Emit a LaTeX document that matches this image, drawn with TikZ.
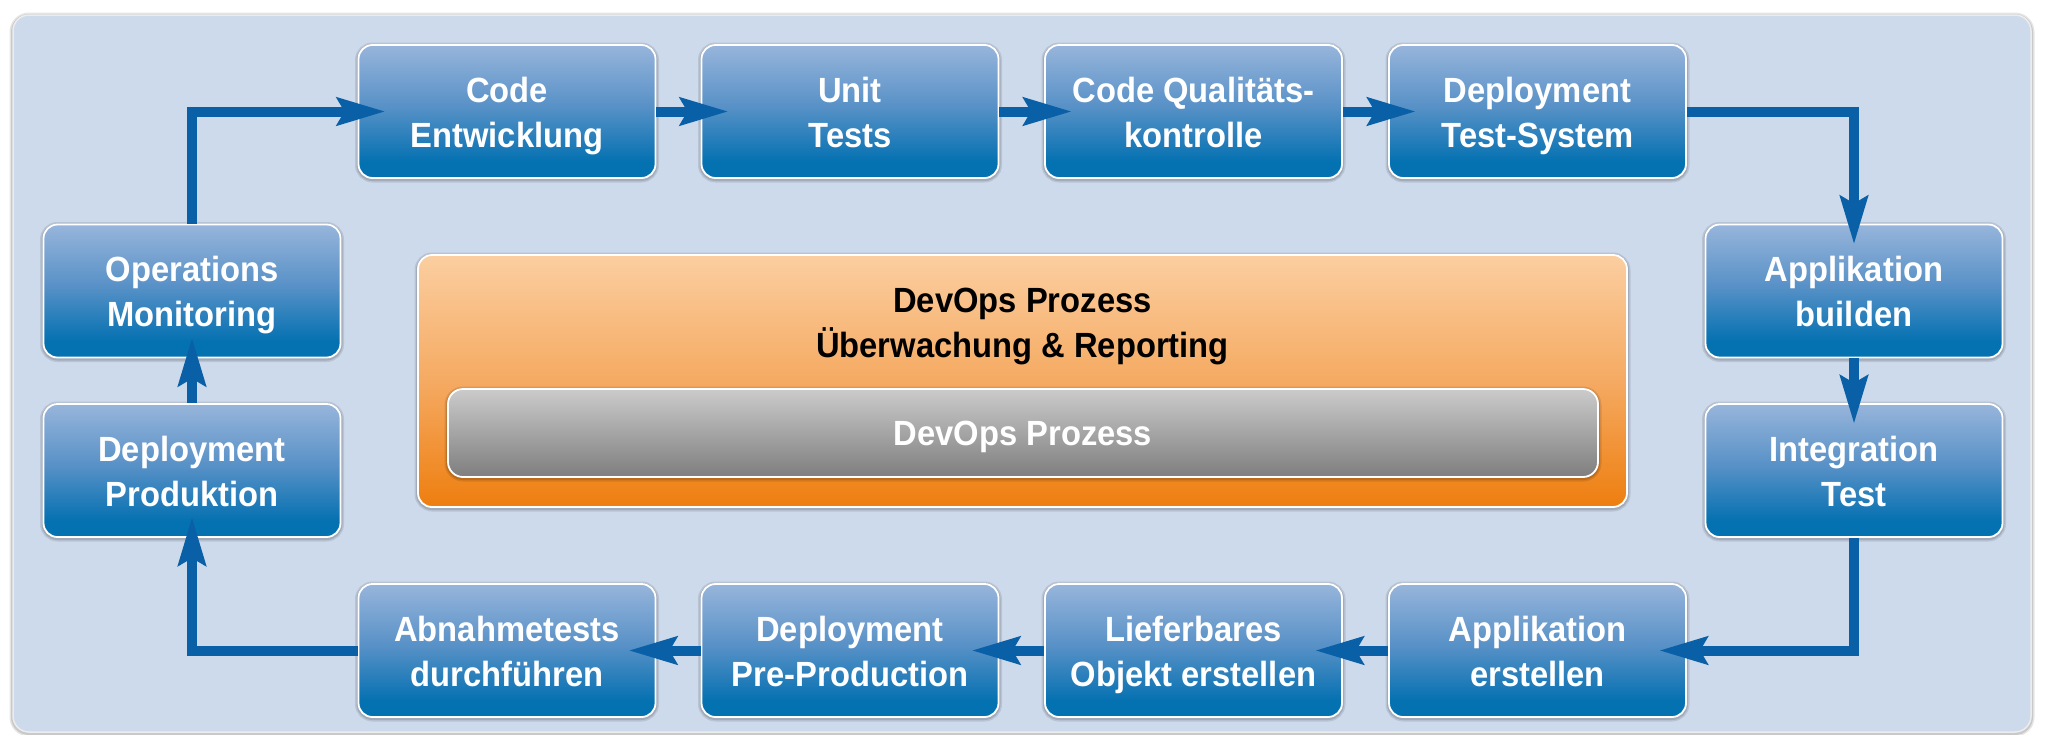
\documentclass[tikz,border=0pt]{standalone}
\usepackage{fontspec}
\setmainfont{Liberation Sans}[FakeStretch=0.935]
\usetikzlibrary{arrows.meta,calc}
\definecolor{panelbg}{HTML}{CDDAEC}
\definecolor{arrowc}{HTML}{0A60A6}
\definecolor{btop}{HTML}{97B5DB}
\definecolor{bmid}{HTML}{5891C7}
\definecolor{bbot}{HTML}{0471B1}
\definecolor{otop}{HTML}{FBCEA1}
\definecolor{omid}{HTML}{F5AA62}
\definecolor{obot}{HTML}{EE7E0F}
\definecolor{gtop}{HTML}{CBCBCB}
\definecolor{gbot}{HTML}{7E7E7E}
\pgfdeclareverticalshading{blueshade}{100bp}{color(0bp)=(bbot); color(25bp)=(bbot); color(31bp)=(bbot); color(52bp)=(bmid); color(75bp)=(btop); color(100bp)=(btop)}
\pgfdeclareverticalshading{orangeshade}{100bp}{color(0bp)=(obot); color(25bp)=(obot); color(50bp)=(omid); color(75bp)=(otop); color(100bp)=(otop)}
\pgfdeclareverticalshading{grayshade}{100bp}{color(0bp)=(gbot); color(25bp)=(gbot); color(75bp)=(gtop); color(100bp)=(gtop)}
\newcommand{\twolines}[2]{\rule{0pt}{34pt}#1\\#2\rule[-8pt]{0pt}{8pt}}
\tikzset{
  halo/.style={preaction={draw=black,draw opacity=0.10,line width=7pt,transform canvas={yshift=-1pt}},
               preaction={draw=black,draw opacity=0.12,line width=4pt,transform canvas={yshift=-1pt}}},
  stepbox/.style={halo,shading=blueshade,draw=white,line width=1.8pt,rounded corners=14pt,
    minimum width=297pt,minimum height=133pt,inner sep=0pt,align=center,text=white,
    font=\fontsize{35}{45}\selectfont\bfseries},
  arr/.style={draw=arrowc,line width=10pt,line join=miter,
    -{Stealth[length=48pt,width=27pt,inset=7pt]}},
  harr/.style={arr,shorten >=-28pt},
  varr/.style={arr,shorten >=-21pt},
  bigtxt/.style={font=\fontsize{35}{45}\selectfont\bfseries,inner sep=0pt}
}
\begin{document}
\begin{tikzpicture}[x=1pt,y=-1pt]
\useasboundingbox (0,0) rectangle (2045,734);
\fill[white] (0,0) rectangle (2045,734);
% panel
\path[halo,fill=panelbg,draw=white!85!gray,line width=1.5pt,rounded corners=16pt] (13,15) rectangle (2031,732);
% central block
\node[halo,shading=orangeshade,draw=white,line width=1.8pt,rounded corners=14pt,minimum width=1209pt,minimum height=252pt,inner sep=0pt] (orange) at (1022.5,381) {};
\node[bigtxt,anchor=base,text=black] (t1) at (1022.5,312) {DevOps Prozess};
\node[bigtxt,anchor=base,text=black] (t2) at (1022.5,357) {Überwachung \& Reporting};
\node[halo,shading=grayshade,draw=white,line width=1.8pt,rounded corners=15pt,minimum width=1150pt,minimum height=88pt,inner sep=0pt] (gray) at (1023,433) {};
\node[bigtxt,anchor=base,text=white] (t3) at (1023,445) {DevOps Prozess};
% boxes
\node[stepbox] (ce) at (507,111.5) {\twolines{Code}{Entwicklung}};
\node[stepbox] (ut) at (850,111.5) {\twolines{Unit}{Tests}};
\node[stepbox] (cq) at (1193.5,111.5) {\twolines{Code Qualitäts-}{kontrolle}};
\node[stepbox] (dt) at (1537.5,111.5) {\twolines{Deployment}{Test-System}};
\node[stepbox] (ab) at (1854,291) {\twolines{Applikation}{builden}};
\node[stepbox] (it) at (1854,470.5) {\twolines{Integration}{Test}};
\node[stepbox] (ae) at (1537.5,650.5) {\twolines{Applikation}{erstellen}};
\node[stepbox] (lo) at (1193.5,650.5) {\twolines{Lieferbares}{Objekt erstellen}};
\node[stepbox] (dp) at (850,650.5) {\twolines{Deployment}{Pre-Production}};
\node[stepbox] (ad) at (507,650.5) {\twolines{Abnahmetests}{durchführen}};
\node[stepbox] (dpr) at (192,470.5) {\twolines{Deployment}{Produktion}};
\node[stepbox] (om) at (192,291) {\twolines{Operations}{Monitoring}};
% connectors
\draw[harr] (om.north) |- (ce.west);
\draw[harr] (ce.east) -- (ut.west);
\draw[harr] (ut.east) -- (cq.west);
\draw[harr] (cq.east) -- (dt.west);
\draw[varr] (dt.east) -| (ab.north);
\draw[varr] (ab.south) -- (it.north);
\draw[harr] (it.south) |- (ae.east);
\draw[harr] (ae.west) -- (lo.east);
\draw[harr] (lo.west) -- (dp.east);
\draw[harr] (dp.west) -- (ad.east);
\draw[varr] (ad.west) -| (dpr.south);
\draw[varr] (dpr.north) -- (om.south);
\end{tikzpicture}
\end{document}
